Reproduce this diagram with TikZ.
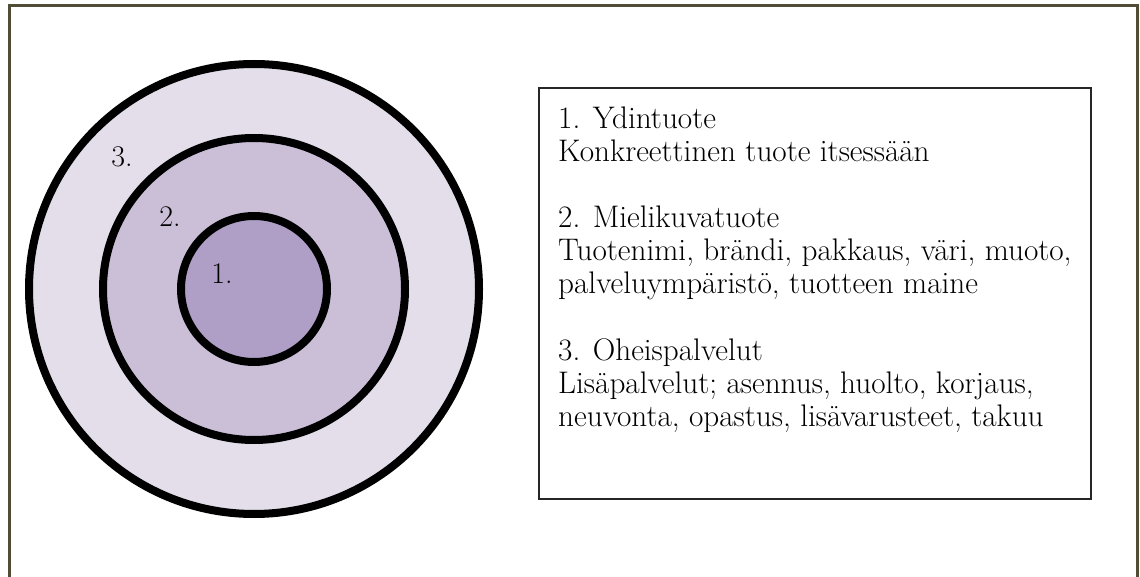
\documentclass[tikz,border=0pt]{standalone}
\usepackage{fontspec}
\definecolor{frameol}{HTML}{514C36}
\definecolor{ringA}{HTML}{E3DEEA}
\definecolor{ringB}{HTML}{CBBFD8}
\definecolor{ringC}{HTML}{AF9FC6}
\definecolor{boxline}{HTML}{262626}
\tikzset{
  ring/.style={circle, draw=black, line width=8pt, inner sep=0pt},
  lbl/.style={font=\fontsize{30}{33}\selectfont, inner sep=0pt},
  para/.style={font=\fontsize{31.2}{33}\selectfont, align=left, anchor=north west, inner sep=0pt},
  infobox/.style={draw=boxline, line width=1.6pt, anchor=north west, inner sep=0pt}
}
\begin{document}
\begin{tikzpicture}[x=1pt,y=-1pt]
\useasboundingbox (0,0) rectangle (1140,577);
\fill[white] (0,0) rectangle (1140,577);
% frame
\coordinate (fbl) at (9,577);
\coordinate (ftl) at (9,6);
\coordinate (ftr) at (1137,6);
\coordinate (fbr) at (1137,577);
\draw[frameol, line width=3pt] (fbl) -- (ftl) -- (ftr) -- (fbr);
% circles
\node[ring, fill=ringA, minimum size=450pt] (outer) at (254,289) {};
\node[ring, fill=ringB, minimum size=302pt] (middle) at (254,289) {};
\node[ring, fill=ringC, minimum size=146pt] (inner) at (254,289) {};
\node[lbl] (l3) at (122,157) {3.};
\node[lbl] (l2) at (170,217) {2.};
\node[lbl] (l1) at (222,274) {1.};
% info box
\node[infobox, minimum width=552pt, minimum height=411pt] (box) at (538,87) {};
\node[para] (p1) at (558,107) {1. Ydintuote\\Konkreettinen tuote itsessään};
\node[para] (p2) at (558,206) {2. Mielikuvatuote\\Tuotenimi, brändi, pakkaus, väri, muoto,\\palveluympäristö, tuotteen maine};
\node[para] (p3) at (558,338) {3. Oheispalvelut\\Lisäpalvelut; asennus, huolto, korjaus,\\neuvonta, opastus, lisävarusteet, takuu};
\end{tikzpicture}
\end{document}
